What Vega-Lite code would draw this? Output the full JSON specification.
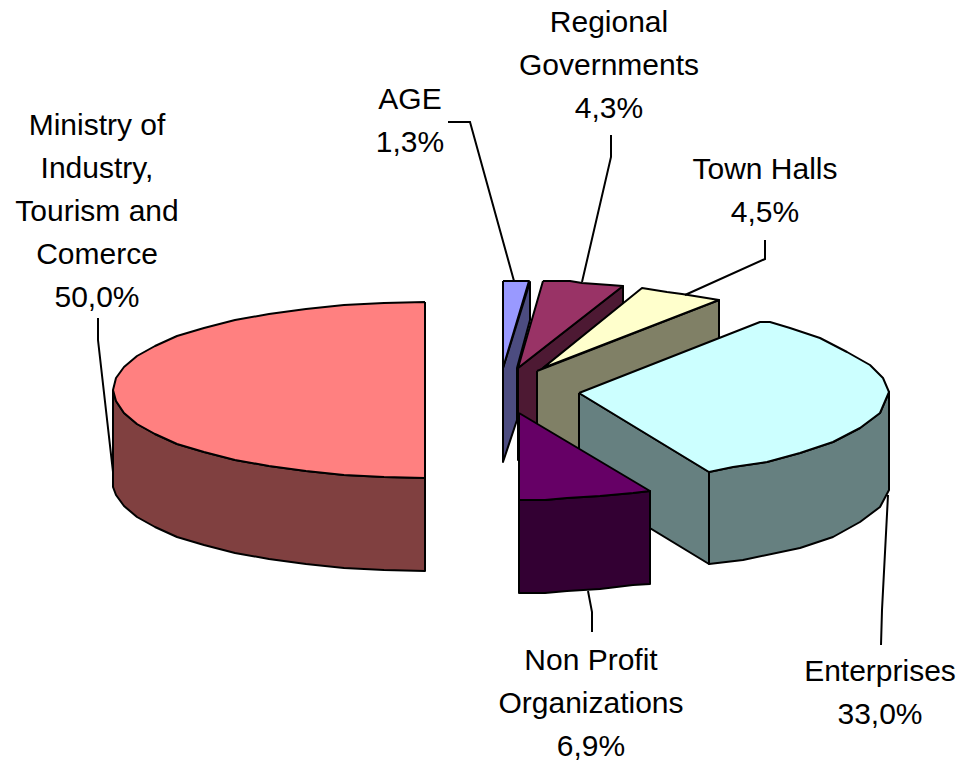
{"$schema":"https://vega.github.io/schema/vega-lite/v6.json","width":961,"height":763,"padding":0,"autosize":{"type":"fit","contains":"padding"},"background":"white","view":{"stroke":null},
"datasets":{"faces":[
{"f":"Ministry side","x":113,"y":390},{"f":"Ministry side","x":116,"y":401},{"f":"Ministry side","x":124,"y":413},{"f":"Ministry side","x":137,"y":424},{"f":"Ministry side","x":155,"y":434},{"f":"Ministry side","x":177,"y":444},{"f":"Ministry side","x":204,"y":452},{"f":"Ministry side","x":235,"y":460},{"f":"Ministry side","x":269,"y":466},{"f":"Ministry side","x":306,"y":471},{"f":"Ministry side","x":344,"y":475},{"f":"Ministry side","x":384,"y":477},{"f":"Ministry side","x":425,"y":478},{"f":"Ministry side","x":425,"y":571},{"f":"Ministry side","x":384,"y":570},{"f":"Ministry side","x":344,"y":568},{"f":"Ministry side","x":306,"y":564},{"f":"Ministry side","x":269,"y":559},{"f":"Ministry side","x":235,"y":553},{"f":"Ministry side","x":204,"y":545},{"f":"Ministry side","x":177,"y":537},{"f":"Ministry side","x":155,"y":527},{"f":"Ministry side","x":137,"y":517},{"f":"Ministry side","x":124,"y":506},{"f":"Ministry side","x":116,"y":495},{"f":"Ministry side","x":113,"y":487},{"f":"Ministry side","x":113,"y":390},
{"f":"Ministry top","x":425,"y":302},{"f":"Ministry top","x":384,"y":303},{"f":"Ministry top","x":344,"y":305},{"f":"Ministry top","x":306,"y":309},{"f":"Ministry top","x":269,"y":314},{"f":"Ministry top","x":235,"y":320},{"f":"Ministry top","x":204,"y":328},{"f":"Ministry top","x":177,"y":336},{"f":"Ministry top","x":155,"y":346},{"f":"Ministry top","x":137,"y":356},{"f":"Ministry top","x":124,"y":367},{"f":"Ministry top","x":116,"y":378},{"f":"Ministry top","x":113,"y":390},{"f":"Ministry top","x":116,"y":401},{"f":"Ministry top","x":124,"y":413},{"f":"Ministry top","x":137,"y":424},{"f":"Ministry top","x":155,"y":434},{"f":"Ministry top","x":177,"y":444},{"f":"Ministry top","x":204,"y":452},{"f":"Ministry top","x":235,"y":460},{"f":"Ministry top","x":269,"y":466},{"f":"Ministry top","x":306,"y":471},{"f":"Ministry top","x":344,"y":475},{"f":"Ministry top","x":384,"y":477},{"f":"Ministry top","x":425,"y":478},{"f":"Ministry top","x":425,"y":302},
{"f":"AGE side","x":503,"y":368},{"f":"AGE side","x":530,"y":282},{"f":"AGE side","x":530,"y":320},{"f":"AGE side","x":517,"y":368},{"f":"AGE side","x":517,"y":420},{"f":"AGE side","x":503,"y":462},{"f":"AGE side","x":503,"y":368},
{"f":"AGE top","x":503,"y":281},{"f":"AGE top","x":529,"y":281},{"f":"AGE top","x":503,"y":368},{"f":"AGE top","x":503,"y":281},
{"f":"Regional side","x":518,"y":368},{"f":"Regional side","x":623,"y":286},{"f":"Regional side","x":623,"y":304},{"f":"Regional side","x":538,"y":372},{"f":"Regional side","x":538,"y":430},{"f":"Regional side","x":518,"y":460},{"f":"Regional side","x":518,"y":368},
{"f":"Regional top","x":543,"y":281},{"f":"Regional top","x":570,"y":281},{"f":"Regional top","x":582,"y":283},{"f":"Regional top","x":610,"y":285},{"f":"Regional top","x":623,"y":286},{"f":"Regional top","x":518,"y":368},{"f":"Regional top","x":543,"y":281},
{"f":"Town side","x":537,"y":371},{"f":"Town side","x":719,"y":300},{"f":"Town side","x":719,"y":400},{"f":"Town side","x":578,"y":450},{"f":"Town side","x":537,"y":425},{"f":"Town side","x":537,"y":371},
{"f":"Town top","x":543,"y":368},{"f":"Town top","x":642,"y":288},{"f":"Town top","x":667,"y":292},{"f":"Town top","x":682,"y":294},{"f":"Town top","x":719,"y":300},{"f":"Town top","x":543,"y":368},
{"f":"Enterprises inner","x":579,"y":393},{"f":"Enterprises inner","x":709,"y":472},{"f":"Enterprises inner","x":709,"y":564},{"f":"Enterprises inner","x":579,"y":485},{"f":"Enterprises inner","x":579,"y":393},
{"f":"Enterprises outer","x":709,"y":472},{"f":"Enterprises outer","x":733,"y":467},{"f":"Enterprises outer","x":767,"y":462},{"f":"Enterprises outer","x":800,"y":453},{"f":"Enterprises outer","x":833,"y":442},{"f":"Enterprises outer","x":860,"y":428},{"f":"Enterprises outer","x":880,"y":413},{"f":"Enterprises outer","x":889,"y":392},{"f":"Enterprises outer","x":889,"y":490},{"f":"Enterprises outer","x":880,"y":507},{"f":"Enterprises outer","x":860,"y":522},{"f":"Enterprises outer","x":833,"y":537},{"f":"Enterprises outer","x":800,"y":548},{"f":"Enterprises outer","x":743,"y":560},{"f":"Enterprises outer","x":709,"y":564},{"f":"Enterprises outer","x":709,"y":472},
{"f":"Enterprises top","x":579,"y":393},{"f":"Enterprises top","x":760,"y":322},{"f":"Enterprises top","x":770,"y":322},{"f":"Enterprises top","x":790,"y":328},{"f":"Enterprises top","x":820,"y":338},{"f":"Enterprises top","x":847,"y":352},{"f":"Enterprises top","x":870,"y":365},{"f":"Enterprises top","x":883,"y":378},{"f":"Enterprises top","x":889,"y":392},{"f":"Enterprises top","x":880,"y":413},{"f":"Enterprises top","x":860,"y":428},{"f":"Enterprises top","x":833,"y":442},{"f":"Enterprises top","x":800,"y":453},{"f":"Enterprises top","x":767,"y":462},{"f":"Enterprises top","x":733,"y":467},{"f":"Enterprises top","x":709,"y":472},{"f":"Enterprises top","x":579,"y":393},
{"f":"Non Profit side","x":519,"y":500},{"f":"Non Profit side","x":545,"y":500},{"f":"Non Profit side","x":567,"y":498},{"f":"Non Profit side","x":600,"y":496},{"f":"Non Profit side","x":633,"y":493},{"f":"Non Profit side","x":650,"y":491},{"f":"Non Profit side","x":650,"y":584},{"f":"Non Profit side","x":633,"y":585},{"f":"Non Profit side","x":600,"y":589},{"f":"Non Profit side","x":567,"y":591},{"f":"Non Profit side","x":545,"y":593},{"f":"Non Profit side","x":519,"y":593},{"f":"Non Profit side","x":519,"y":500},
{"f":"Non Profit top","x":519,"y":413},{"f":"Non Profit top","x":650,"y":491},{"f":"Non Profit top","x":633,"y":493},{"f":"Non Profit top","x":600,"y":496},{"f":"Non Profit top","x":567,"y":498},{"f":"Non Profit top","x":545,"y":500},{"f":"Non Profit top","x":519,"y":500},{"f":"Non Profit top","x":519,"y":413}
],
"leaders":[
{"s":"Ministry","x":98,"y":318},{"s":"Ministry","x":98,"y":340},{"s":"Ministry","x":113,"y":472},
{"s":"AGE","x":448,"y":122},{"s":"AGE","x":470,"y":122},{"s":"AGE","x":514,"y":281},
{"s":"Regional","x":611,"y":135},{"s":"Regional","x":611,"y":157},{"s":"Regional","x":582,"y":282},
{"s":"Town","x":765,"y":240},{"s":"Town","x":765,"y":259},{"s":"Town","x":685,"y":295},
{"s":"Enterprises","x":881,"y":645},{"s":"Enterprises","x":882,"y":610},{"s":"Enterprises","x":888,"y":495},
{"s":"Non Profit","x":592,"y":632},{"s":"Non Profit","x":592,"y":612},{"s":"Non Profit","x":588,"y":591}
],
"labels":[
{"label":"Ministry of\nIndustry,\nTourism and\nComerce\n50,0%","x":97,"y":126},
{"label":"AGE\n1,3%","x":410,"y":100},
{"label":"Regional\nGovernments\n4,3%","x":609,"y":23},
{"label":"Town Halls\n4,5%","x":765,"y":170},
{"label":"Enterprises\n33,0%","x":880,"y":672},
{"label":"Non Profit\nOrganizations\n6,9%","x":591,"y":661}
]},
"layer":[
{"data":{"name":"faces"},"mark":{"type":"line","stroke":"black","strokeWidth":2,"strokeJoin":"round"},
"encoding":{"x":{"field":"x","type":"quantitative","scale":{"domain":[0,961],"nice":false,"zero":false},"axis":null},
"y":{"field":"y","type":"quantitative","scale":{"domain":[763,0],"nice":false,"zero":false},"axis":null},
"order":{"value":null},
"detail":{"field":"f"},
"fill":{"field":"f","type":"nominal","legend":null,"scale":{"domain":["Ministry side","Ministry top","AGE side","AGE top","Regional side","Regional top","Town side","Town top","Enterprises inner","Enterprises outer","Enterprises top","Non Profit side","Non Profit top"],"range":["#804040","#FF8080","#4C4C80","#9999FF","#4D1933","#993366","#808066","#FFFFCC","#668080","#668080","#CCFFFF","#330033","#660066"]}}}},
{"data":{"name":"leaders"},"mark":{"type":"line","stroke":"black","strokeWidth":2},
"encoding":{"x":{"field":"x","type":"quantitative","scale":{"domain":[0,961],"nice":false,"zero":false},"axis":null},
"y":{"field":"y","type":"quantitative","scale":{"domain":[763,0],"nice":false,"zero":false},"axis":null},
"order":{"value":null},
"detail":{"field":"s"}}},
{"data":{"name":"labels"},"mark":{"type":"text","font":"Liberation Sans","fontSize":30,"lineHeight":43,"lineBreak":"\n","align":"center","baseline":"middle","color":"black"},
"encoding":{"x":{"field":"x","type":"quantitative","scale":{"domain":[0,961],"nice":false,"zero":false},"axis":null},
"y":{"field":"y","type":"quantitative","scale":{"domain":[763,0],"nice":false,"zero":false},"axis":null},
"text":{"field":"label"}}}
]}
